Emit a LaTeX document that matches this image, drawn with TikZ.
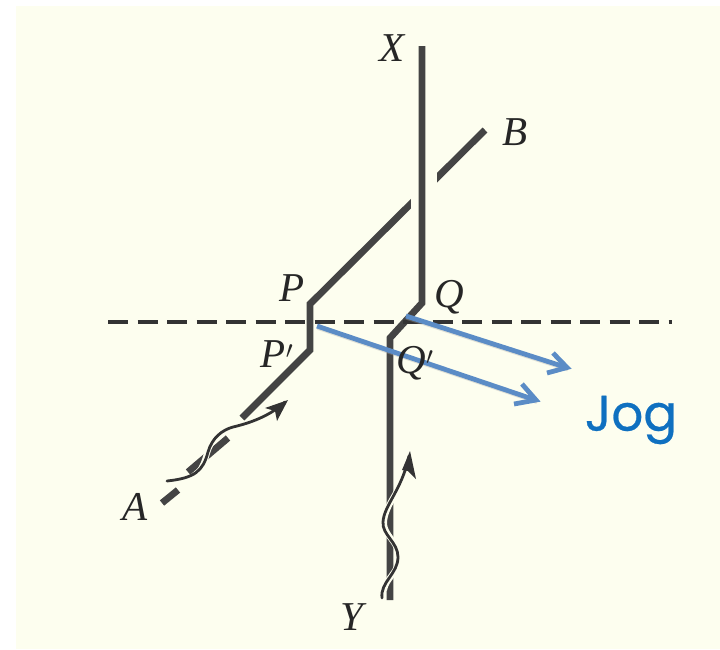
\documentclass[tikz,border=0pt]{standalone}
\usepackage{fontspec}
\setmainfont{Liberation Serif}
\newfontfamily\jogfont[FakeBold=0.5]{Poppins}
\definecolor{paper}{HTML}{FDFEEF}
\definecolor{ink}{HTML}{444444}
\definecolor{bluearrow}{HTML}{5B8CC6}
\definecolor{jogblue}{HTML}{0F70C0}
\tikzset{
  dislocation/.style={draw=ink,line width=6.8pt,line cap=butt,line join=miter},
  burgers/.style={draw=black!80,line width=2.8pt,line cap=round,line join=round},
  halo/.style={draw=paper,line width=6pt,line cap=butt},
  jogarrow/.style={draw=bluearrow,line width=4.8pt,line cap=butt,line join=miter},
  jogshadow/.style={draw=black!35,opacity=.35,line width=4.8pt,line cap=butt,line join=miter},
  glabel/.style={font=\itshape\fontsize{41}{41}\selectfont,text=black!85,inner sep=0pt},
}
\begin{document}
\begin{tikzpicture}[x=1pt,y=-1pt]
\useasboundingbox (0,0) rectangle (720,649);
\fill[white] (0,0) rectangle (720,649);
\fill[paper] (16,6) rectangle (720,649);
% dislocation AB
\draw[dislocation] (485,130) -- (310,304) -- (310,350) -- (242,418);
\fill[paper] (411,160) rectangle (437,225);
\draw[dislocation] (228,438) -- (188,472);
\draw[dislocation] (178,490) -- (162,503);
% dislocation XY
\draw[dislocation] (422,46) -- (422,303) -- (390,338) -- (390,600);
% dashed line
\draw[black!80,line width=3.8pt,dash pattern=on 20pt off 9.5pt] (108,322) -- (672,322);
% wavy arrows
\begin{scope}[xshift=-1pt,yshift=-1pt]
\draw[halo] (175,482) .. controls (195,480) and (203,472) .. (208,452) .. controls (212,438) and (222,430) .. (233,427) .. controls (250,423) and (270,416) .. (282,404);
\end{scope}
\draw[burgers] (167,481) .. controls (195,478) and (203,471) .. (208,452) .. controls (212,438) and (222,430) .. (233,427) .. controls (250,423) and (270,416) .. (285,402);
\fill[black!80] (265,408) -- (288,400) -- (277,421) -- (275,411) -- cycle;
\begin{scope}[xshift=1pt]
\draw[halo] (383,590) .. controls (385,578) and (398,572) .. (398,557) .. controls (398,542) and (382,535) .. (383,522) .. controls (384,505) and (400,490) .. (404,472);
\end{scope}
\draw[burgers] (382,598) .. controls (380,582) and (398,574) .. (398,557) .. controls (398,542) and (382,535) .. (383,522) .. controls (384,505) and (402,490) .. (409,456);
\fill[black!80] (402,470) -- (410,451) -- (416,479) -- (408,471) -- cycle;
% blue jog arrows
\begin{scope}[xshift=1pt,yshift=-1.5pt]
\draw[jogshadow] (406,316) -- (567,367.5);
\draw[jogshadow] (317,326) -- (536,400);
\end{scope}
\draw[jogarrow] (406,316) -- (565,367);
\draw[jogarrow] (553,353) -- (567,367.5) -- (547,373);
\draw[jogarrow] (317,326) -- (534,399.5);
\draw[jogarrow] (522,384) -- (536,400) -- (514,404);
% labels
\node[glabel] (X) at (392,48) {X};
\node[glabel] (B) at (515,132) {B};
\node[glabel] (P) at (292,288) {P};
\node[glabel] (Q) at (449,297) {Q};
\node[glabel] (Pp) at (277,354) {P$'$};
\node[glabel] (Qp) at (415,363) {Q$'$};
\node[glabel] (A) at (135,507) {A};
\node[glabel] (Y) at (352,617) {Y};
\node[font=\jogfont\fontsize{50}{50}\selectfont,text=jogblue,inner sep=0pt] (Jog) at (631,420) {Jog};
\end{tikzpicture}
\end{document}
